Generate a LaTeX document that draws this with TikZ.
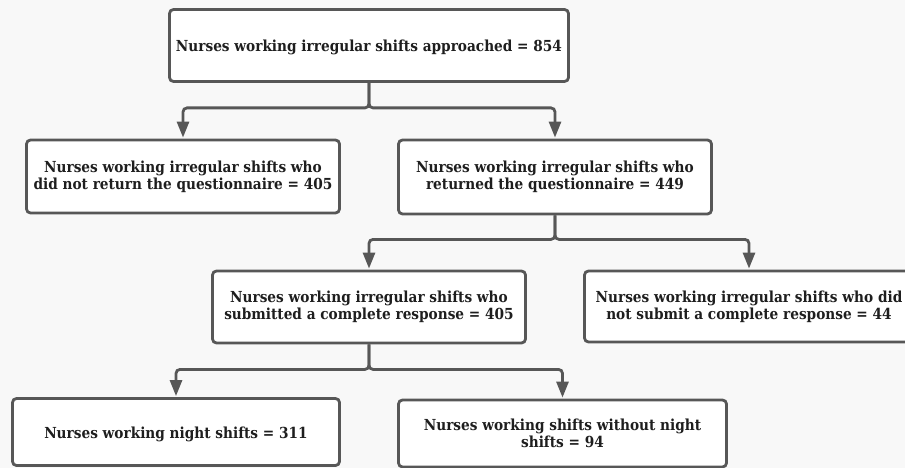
\documentclass[tikz,border=0pt]{standalone}
\usepackage{fontspec}
\setmainfont{DejaVu Serif Condensed}
\usetikzlibrary{arrows.meta,positioning}
\definecolor{lncol}{HTML}{575757}
\definecolor{txtcol}{HTML}{1E1E1E}
\definecolor{bgcol}{HTML}{F8F8F8}

\begin{document}
\begin{tikzpicture}[x=1pt,y=-1pt,
  box/.style={draw=lncol,line width=2.8pt,rounded corners=4pt,fill=white,text=txtcol,font=\bfseries\fontsize{15.2}{17}\selectfont,align=center,inner sep=0pt},
  oneline/.style={text height=16pt},
  lnk/.style={-{Triangle[length=16pt,width=12pt]},draw=lncol,line width=2.8pt,rounded corners=4pt,shorten >=1pt}]
  \fill[bgcol] (0,0) rectangle (905,468);
  \useasboundingbox (0,0) rectangle (905,468);
  \node[box,oneline,minimum width=399pt,minimum height=72pt] (appr) at (369,45.5) {Nurses working irregular shifts approached = 854};
  \node[box,minimum width=313pt,minimum height=73pt] (noret) at (183,176.5) {Nurses working irregular shifts who\\did not return the questionnaire = 405};
  \node[box,minimum width=313pt,minimum height=74pt] (ret) at (555,177) {Nurses working irregular shifts who\\returned the questionnaire = 449};
  \node[box,minimum width=313pt,minimum height=72pt] (comp) at (369,307) {Nurses working irregular shifts who\\submitted a complete response = 405};
  \node[box,minimum width=329pt,minimum height=71pt] (incomp) at (749,306.5) {Nurses working irregular shifts who did\\not submit a complete response = 44};
  \node[box,oneline,minimum width=327pt,minimum height=67pt] (night) at (176,432) {Nurses working night shifts = 311};
  \node[box,minimum width=328pt,minimum height=67pt] (nonight) at (562.5,433.5) {Nurses working shifts without night\\shifts = 94};
  % split from the first box
  \draw[lnk] (appr.south) -- ++(0,25) -| (noret.north);
  \draw[lnk] (appr.south) -- ++(0,25) -| (ret.north);
  % returned questionnaires
  \draw[lnk] (ret.south) -- ++(0,24) -| (comp.north);
  \draw[lnk] (ret.south) -- ++(0,24) -| (incomp.north);
  % complete responses
  \draw[lnk] (comp.south) -- ++(0,25) -| (night.north);
  \draw[lnk] (comp.south) -- ++(0,25) -| (nonight.north);
\end{tikzpicture}
\end{document}
